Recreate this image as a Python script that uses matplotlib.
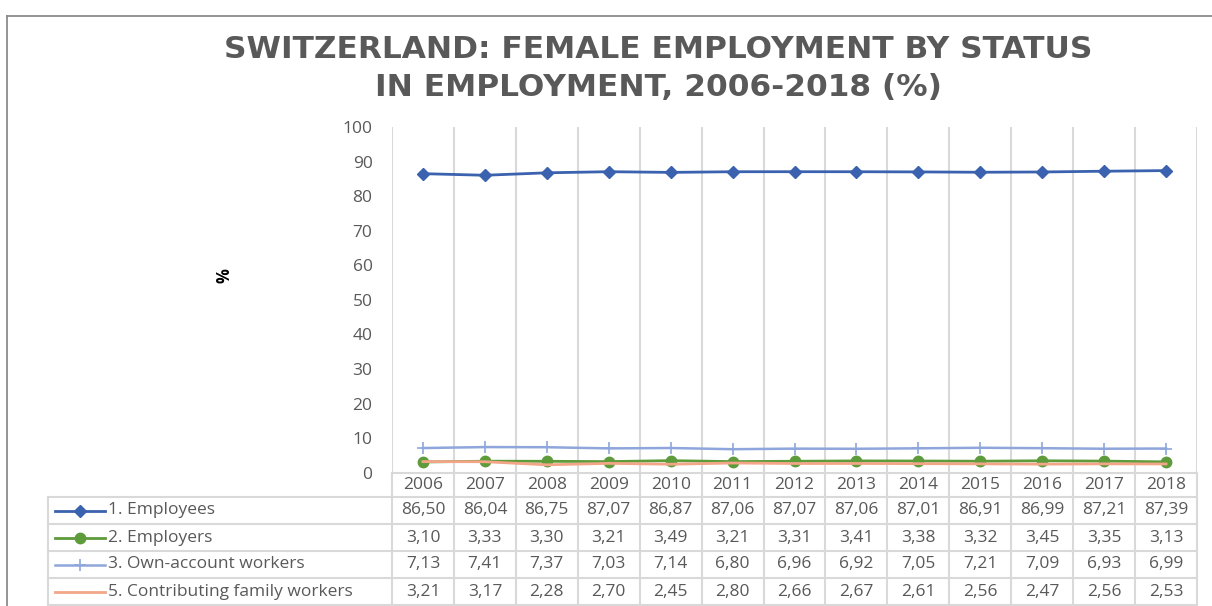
import numpy as np
import matplotlib
matplotlib.use('Agg')
import matplotlib.pyplot as plt
from matplotlib.lines import Line2D

plt.rcParams['font.family'] = ['Open Sans', 'DejaVu Sans']

# dados
anos = ['2006', '2007', '2008', '2009', '2010', '2011', '2012',
        '2013', '2014', '2015', '2016', '2017', '2018']
employees = [86.50, 86.04, 86.75, 87.07, 86.87, 87.06, 87.07, 87.06, 87.01, 86.91, 86.99, 87.21, 87.39]
employers = [3.10, 3.33, 3.30, 3.21, 3.49, 3.21, 3.31, 3.41, 3.38, 3.32, 3.45, 3.35, 3.13]
own_account = [7.13, 7.41, 7.37, 7.03, 7.14, 6.80, 6.96, 6.92, 7.05, 7.21, 7.09, 6.93, 6.99]
family_workers = [3.21, 3.17, 2.28, 2.70, 2.45, 2.80, 2.66, 2.67, 2.61, 2.56, 2.47, 2.56, 2.53]
nomes = ['1. Employees', '2. Employers', '3. Own-account workers', '5. Contributing family workers']
y_ticks = [0, 10, 20, 30, 40, 50, 60, 70, 80, 90, 100]

series = [employees, employers, own_account, family_workers]
estilos = [
    dict(color='#3A62AE', marker='D', markersize=6.5, lw=2.0),
    dict(color='#5E9B3B', marker='o', markersize=7.5, lw=2.0),
    dict(color='#8EA6DB', marker='+', markersize=8, mew=1.2, lw=1.8),
    dict(color='#F2A687', marker=None, lw=2.0),
]

W, H = 1212, 606
fig = plt.figure(figsize=(W / 100, H / 100), dpi=100)

# posicoes em pixels (referencia)
x_esq, x_dir = 392, 1197
y_topo, y_base = 127, 472.7
col_w = (x_dir - x_esq) / len(anos)
cinza_txt = '#595959'
cinza_grade = '#D9D9D9'
fs = 12.5

ax = fig.add_axes([x_esq / W, (H - y_base) / H, (x_dir - x_esq) / W, (y_base - y_topo) / H])
x = np.arange(len(anos))
for vals, est in zip(series, estilos):
    ax.plot(x, vals, clip_on=False, zorder=3, **est)

ax.set_xlim(-0.5, len(anos) - 0.5)
ax.set_ylim(0, 100)
ax.set_yticks(y_ticks)
ax.set_yticklabels([str(t) for t in y_ticks], color=cinza_txt, fontsize=fs)
ax.set_xticks(np.arange(-0.5, len(anos)), minor=True)
ax.set_xticks([])
ax.grid(which='minor', axis='x', color=cinza_grade, lw=1.5)
ax.tick_params(axis='y', length=0, pad=14)
ax.tick_params(axis='x', which='minor', length=0)
for s in ax.spines.values():
    s.set_visible(False)

# rotulo do eixo y
fig.text(225 / W, 1 - 276 / H, '%', rotation=90, ha='center', va='center',
         fontsize=12, fontweight='bold', color='black')

# tabela de dados
tab_x0 = 48
x_min = -0.5 - (x_esq - tab_x0) / col_w
tab = fig.add_axes([tab_x0 / W, 1 / H, (x_dir - tab_x0) / W, (605 - y_base) / H])
hdr = (497 - y_base) / 27
tab.set_xlim(x_min, len(anos) - 0.5)
tab.set_ylim(len(nomes), -hdr)
tab.axis('off')

kw = dict(color=cinza_grade, lw=1.5, clip_on=False)
for b in np.arange(-0.5, len(anos)):
    tab.plot([b, b], [-hdr, len(nomes)], **kw)
tab.plot([-0.5, len(anos) - 0.5], [-hdr, -hdr], **kw)
for r in range(len(nomes) + 1):
    tab.plot([x_min, len(anos) - 0.5], [r, r], **kw)
tab.plot([x_min, x_min], [0, len(nomes)], **kw)

for i, a in enumerate(anos):
    tab.text(i, -hdr / 2, a, ha='center', va='center', fontsize=fs, color=cinza_txt)

px = lambda p: -0.5 + (p - x_esq) / col_w
for r, (nome, vals, est) in enumerate(zip(nomes, series, estilos)):
    yc = r + 0.5
    tab.add_line(Line2D([px(55), px(105)], [yc, yc], color=est['color'], lw=est['lw'], clip_on=False))
    if est['marker']:
        tab.plot([px(80)], [yc], marker=est['marker'], color=est['color'],
                 markersize=est['markersize'], mew=est.get('mew', 1), clip_on=False)
    tab.text(px(108), yc, nome, ha='left', va='center', fontsize=fs, color=cinza_txt)
    for i, v in enumerate(vals):
        tab.text(i, yc, f'{v:.2f}'.replace('.', ','), ha='center', va='center',
                 fontsize=fs, color=cinza_txt)

# titulo
fig.text(0.543, 1 - 49 / H, 'SWITZERLAND: FEMALE EMPLOYMENT BY STATUS', ha='center', va='center',
         fontsize=22.5, fontweight='bold', color=cinza_txt, family='DejaVu Sans')
fig.text(0.543, 1 - 87 / H, 'IN EMPLOYMENT, 2006-2018 (%)', ha='center', va='center',
         fontsize=22.5, fontweight='bold', color=cinza_txt, family='DejaVu Sans')

# moldura
fig.add_artist(Line2D([7 / W, 1], [1 - 16 / H, 1 - 16 / H], transform=fig.transFigure, color='#8C8C8C', lw=1.3))
fig.add_artist(Line2D([7 / W, 7 / W], [1 - 16 / H, 0], transform=fig.transFigure, color='#8C8C8C', lw=1.3))

fig.savefig('out.png', dpi=100)
